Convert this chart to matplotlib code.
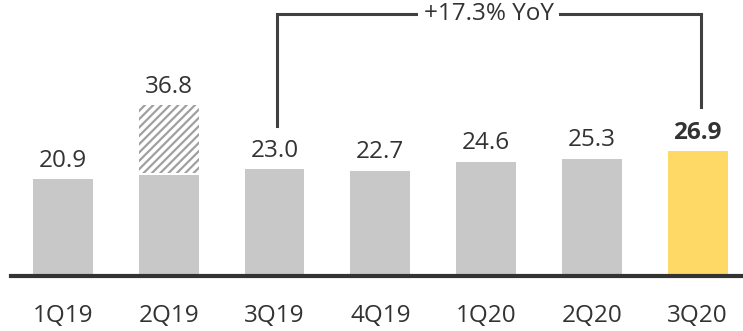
import matplotlib
matplotlib.use("Agg")
import matplotlib.pyplot as plt

quarters = ["1Q19", "2Q19", "3Q19", "4Q19", "1Q20", "2Q20", "3Q20"]
values = [20.9, 36.8, 23.0, 22.7, 24.6, 25.3, 26.9]
underlying = [20.9, 21.8, 23.0, 22.7, 24.6, 25.3, 26.9]
yoy_label = "+17.3% YoY"

GREY = "#C8C8C8"
YELLOW = "#FFD966"
TEXT = "#333333"

plt.rcParams["font.family"] = ["Open Sans", "DejaVu Sans"]
plt.rcParams["hatch.linewidth"] = 1.6
FS = 17.5

fig = plt.figure(figsize=(7.43, 3.31), dpi=100)
ax = fig.add_axes([11 / 743, 55 / 331, 732 / 743, 276 / 331])
ax.set_xlim(-0.4917, 6.43)
ax.set_ylim(0, 59.5)

x = list(range(len(quarters)))
w = 0.567
colors = [GREY] * (len(quarters) - 1) + [YELLOW]
ax.bar(x, underlying, width=w, color=colors, linewidth=0)

# one-off portion shown hatched on top of the underlying bar
gap = 0.3
for i, (v, u) in enumerate(zip(values, underlying)):
    if v > u:
        ax.bar(i, v - u - gap, bottom=u + gap, width=w, color="white",
               edgecolor="#A0A0A0", hatch="////", linewidth=0)

for i, v in enumerate(values):
    bold = i == len(values) - 1
    ax.annotate(f"{v:.1f}", (i, v), xytext=(0, 9), textcoords="offset points",
                ha="center", va="baseline", fontsize=FS, color=TEXT,
                fontweight="bold" if bold else "normal")

# YoY bracket from 3Q19 to 3Q20
x0, x1 = 2.025, 6.03
ytop = 56.5
ax.plot([x0, x0, x1, x1], [32.3, ytop, ytop, 36.4], color="#404040", lw=2.2,
        solid_joinstyle="miter", clip_on=False)
ax.text((x0 + x1) / 2, ytop, yoy_label, ha="center", va="center", fontsize=FS,
        color=TEXT, bbox=dict(facecolor="white", edgecolor="none", pad=4))

ax.set_xticks(x)
ax.set_xticklabels(quarters, fontsize=FS, color=TEXT)
ax.tick_params(axis="x", length=0, pad=20)
ax.set_yticks([])
for s in ["top", "right", "left"]:
    ax.spines[s].set_visible(False)
ax.spines["bottom"].set_color("#333333")
ax.spines["bottom"].set_linewidth(3)

fig.savefig("out.png", dpi=100)
